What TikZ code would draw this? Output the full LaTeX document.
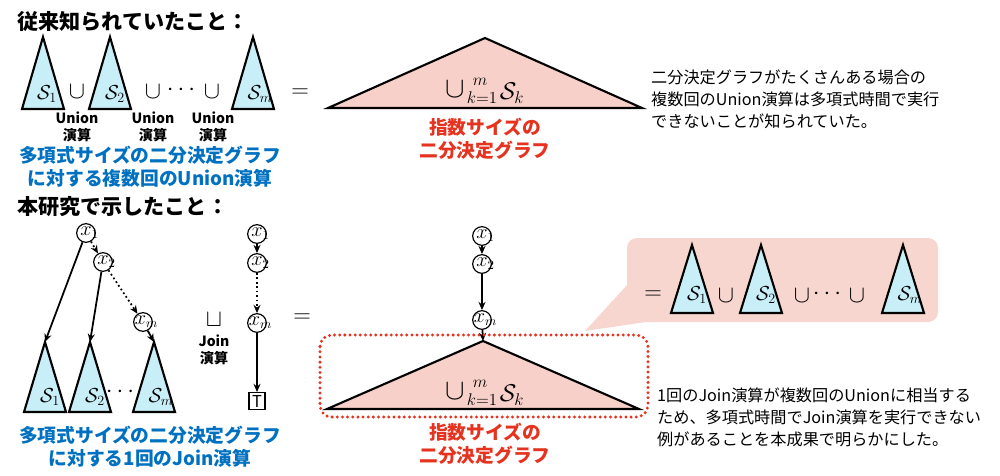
\documentclass[tikz,border=0pt]{standalone}
\usepackage{amsmath}
\usepackage{fontspec}
\newfontfamily\jp{Noto Sans CJK JP}
\usetikzlibrary{arrows.meta,calc}
\definecolor{jblue}{HTML}{0070C0}
\definecolor{jred}{HTML}{E5331F}
\definecolor{tpink}{HTML}{F7D0C9}
\definecolor{cpink}{HTML}{F8D6D0}
\definecolor{tcyan}{HTML}{C8EFF7}
\newcommand\mytri[6]{% style, name, apex x, apex y, half width, height
  \draw[#1] (#3,#4) coordinate (#2) -- ++(-#5,#6) -- ++(2*#5,0) -- cycle;}
\newcommand\unionlab[3]{% name prefix, centre x, centre y
  \node[txt,font=\fontsize{24}{24}\selectfont] (#1u) at (#2-30,#3-3) {$\cup$};
  \node[txt,font=\fontsize{14}{14}\selectfont] (#1m) at (#2-5,#3-10) {$m$};
  \node[txt,font=\fontsize{14}{14}\selectfont] (#1k) at (#2-3,#3+6) {$k{=}1$};
  \node[txt,font=\fontsize{20}{20}\selectfont] (#1s) at (#2+27,#3+1) {$\mathcal{S}_k$};}
\begin{document}
\begin{tikzpicture}[x=0.03cm,y=-0.03cm,
  tri/.style={draw=black,line width=1.8pt,fill=tcyan},
  bigtri/.style={draw=black,line width=1.8pt,fill=tpink},
  var/.style={circle,draw,line width=1pt,fill=white,minimum size=0.56cm,inner sep=0pt},
  arr/.style={-{Stealth[length=7pt,width=6pt]},line width=1.5pt},
  darr/.style={arr,dash pattern=on 1.5pt off 2.3pt},
  txt/.style={inner sep=0pt},
  head/.style={txt,anchor=west,font=\jp\bfseries\fontsize{18}{20}\selectfont},
  bluetxt/.style={txt,align=center,text=jblue,font=\jp\bfseries\fontsize{16}{19.6}\selectfont},
  redtxt/.style={txt,align=center,text=jred,font=\jp\bfseries\fontsize{16}{19.6}\selectfont},
  note/.style={txt,anchor=west,align=left,font=\jp\fontsize{13.8}{18.8}\selectfont},
  oplab/.style={txt,align=center,font=\jp\bfseries\fontsize{12}{14.5}\selectfont},
  op/.style={txt,font=\fontsize{22}{22}\selectfont},
  slab/.style={txt,font=\fontsize{18}{18}\selectfont},
  xlab/.style={font=\fontsize{16}{16}\selectfont,inner sep=0pt,xshift=3pt}
]
\useasboundingbox (0,0) rectangle (1000,476);

% ---------- top section ----------
\node[head] (h1) at (17,22) {従来知られていたこと：};

\mytri{tri}{ta1}{43}{37}{21}{72}
\node[slab] (ts1) at (47,94) {$\mathcal{S}_1$};
\node[op] (tu1) at (77,92) {$\cup$};
\mytri{tri}{ta2}{110}{37}{21}{72}
\node[slab] (ts2) at (115,94) {$\mathcal{S}_2$};
\node[op] (tu2) at (153,92) {$\cup$};
\node[op] (tdots) at (183,90) {$\cdots$};
\node[op] (tu3) at (212,92) {$\cup$};
\mytri{tri}{tam}{253}{37}{21}{72}
\node[slab] (tsm) at (260,94) {$\mathcal{S}_m$};
\node[op] (teq) at (300,93) {$=$};

\node[oplab] (ul1) at (77,127) {Union\\演算};
\node[oplab] (ul2) at (153,127) {Union\\演算};
\node[oplab] (ul3) at (213,127) {Union\\演算};

\node[bluetxt] (b1) at (150,167) {多項式サイズの二分決定グラフ\\に対する複数回のUnion演算};

\mytri{bigtri}{tbig}{485}{38}{157}{70}
\unionlab{tl}{485}{92}
\node[redtxt] (r1) at (485,139) {指数サイズの\\二分決定グラフ};

\node[note] (n1) at (651,99) {二分決定グラフがたくさんある場合の\\複数回のUnion演算は多項式時間で実行\\できないことが知られていた。};

% ---------- bottom section ----------
\node[head] (h2) at (17,207) {本研究で示したこと：};

% left tree
\mytri{tri}{ba1}{45}{342}{21}{70}
\node[slab] (bs1) at (50,397) {$\mathcal{S}_1$};
\mytri{tri}{ba2}{90}{342}{21}{70}
\node[slab] (bs2) at (95,397) {$\mathcal{S}_2$};
\node[op] (bdots) at (122,392) {$\cdots$};
\mytri{tri}{bam}{154}{342}{21}{70}
\node[slab] (bsm) at (161,397) {$\mathcal{S}_m$};

\node[var,label={[xlab]center:$x_1$}] (a1) at (86,233) {};
\node[var,label={[xlab]center:$x_2$}] (a2) at (103,262) {};
\node[var,label={[xlab]center:$x_m$}] (am) at (143,322) {};
\draw[arr] (a1) -- (ba1);
\draw[darr] (a1) -- (a2);
\draw[arr] (a2) -- (ba2);
\draw[darr] (a2) -- (am);
\draw[arr] (am) -- (bam);

% join
\node[op] (jn) at (214,320) {$\sqcup$};
\node[oplab] (jl) at (214,350) {Join\\演算};

% chain
\node[var,label={[xlab]center:$x_1$}] (c1) at (257,234) {};
\node[var,label={[xlab]center:$x_2$}] (c2) at (257,263) {};
\node[var,label={[xlab]center:$x_m$}] (cm) at (257,323) {};
\node[draw,line width=1.1pt,minimum width=0.48cm,minimum height=0.5cm,inner sep=0pt,font=\jp\fontsize{14}{14}\selectfont] (top) at (257,401) {T};
\draw[arr] (c1) -- (c2);
\draw[darr] (c2) -- (cm);
\draw[arr] (cm) -- (top);

\node[op] (beq) at (302,318) {$=$};

\node[bluetxt] (b2) at (150,447) {多項式サイズの二分決定グラフ\\に対する1回のJoin演算};

% middle result
\mytri{bigtri}{bbig}{483}{341}{156}{68}
\unionlab{bl}{485}{394}
\node[var,label={[xlab]center:$x_1$}] (m1) at (482,236) {};
\node[var,label={[xlab]center:$x_2$}] (m2) at (482,264) {};
\node[var,label={[xlab]center:$x_m$}] (mm) at (482,320) {};
\draw[arr] (m1) -- (m2);
\draw[arr] (m2) -- (mm);
\draw[arr] (mm) -- (bbig);

\draw[draw=jred,line width=2.8pt,dash pattern=on 0pt off 4.4pt,line cap=round,rounded corners=0.35cm]
  (320,335) rectangle (648,417);
\node[redtxt] (r2) at (485,444) {指数サイズの\\二分決定グラフ};

% callout
\fill[cpink,rounded corners=0.3cm] (627,238) rectangle (938,322);
\fill[cpink] (628,284) -- (585,331) -- (646,322) -- cycle;
\node[op] (ceq) at (653,295) {$=$};
\mytri{tri}{ca1}{692}{245}{21}{68}
\node[slab] (cs1) at (697,295) {$\mathcal{S}_1$};
\node[op] (cu1) at (726,296) {$\cup$};
\mytri{tri}{ca2}{761}{245}{21}{68}
\node[slab] (cs2) at (766,295) {$\mathcal{S}_2$};
\node[op] (cu2) at (802,296) {$\cup$};
\node[op] (cdots) at (829,294) {$\cdots$};
\node[op] (cu3) at (857,296) {$\cup$};
\mytri{tri}{cam}{903}{245}{21}{68}
\node[slab] (csm) at (910,295) {$\mathcal{S}_m$};

\node[note] (n2) at (657,417) {1回のJoin演算が複数回のUnionに相当する\\ため、多項式時間でJoin演算を実行できない\\例があることを本成果で明らかにした。};
\end{tikzpicture}
\end{document}
